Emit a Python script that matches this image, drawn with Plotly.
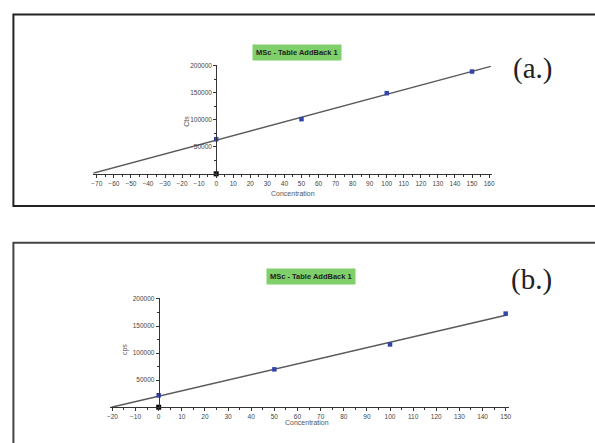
import numpy as np
import plotly.graph_objects as go

# ---- data ----
conc_a = [0, 50, 100, 150]
cts_a = [64000, 101000, 149000, 189000]
conc_b = [0, 50, 100, 150]
cps_b = [22000, 70000, 116000, 173000]
title_a = "MSc - Table AddBack 1"
title_b = "MSc - Table AddBack 1"
ytitle_a = "Cts"
ytitle_b = "cps"
xtitle = "Concentration"
ytick_vals = [50000, 100000, 150000, 200000]

W, H = 595, 443
def fx(px):
    return px / W
def fy(py):
    return 1 - py / H

fig = go.Figure()

def add_panel(xs, ys, xa, ya, xmax):
    xs = np.array(xs, float); ys = np.array(ys, float)
    slope, icpt = np.polyfit(xs, ys, 1)
    x0 = -icpt / slope
    lx = [x0, xmax]
    ly = [icpt + slope * v for v in lx]
    fig.add_trace(go.Scatter(x=lx, y=ly, mode="lines", xaxis=xa, yaxis=ya,
                             line=dict(color="#5a5a5a", width=1.5), showlegend=False,
                             hoverinfo="skip"))
    fig.add_trace(go.Scatter(x=list(xs), y=list(ys), mode="markers", xaxis=xa, yaxis=ya,
                             marker=dict(symbol="square", size=4.5, color="#3344aa"),
                             showlegend=False, cliponaxis=False))
    fig.add_trace(go.Scatter(x=[0], y=[0], mode="markers", xaxis=xa, yaxis=ya,
                             marker=dict(symbol="square", size=5, color="#000000"),
                             showlegend=False, cliponaxis=False))

add_panel(conc_a, cts_a, "x", "y", 161)
add_panel(conc_b, cps_b, "x2", "y2", 150.5)

tickfont = dict(family="Liberation Sans, Arial", size=6.5, color="#444444")
axcommon = dict(showline=True, linecolor="#333333", linewidth=1, ticks="outside",
                ticklen=3, tickcolor="#333333", showgrid=False, zeroline=False,
                tickfont=tickfont, fixedrange=True)

# panel a: 0 at px 215, 1.72 px/unit; y 0 at 172, 200000 at 63
fig.update_layout(
    xaxis=dict(domain=[fx(215 - 72 * 1.72), fx(215 + 162 * 1.72)], range=[-72, 162],
               anchor="y", tick0=0, dtick=10,
               minor=dict(dtick=5, ticks="outside", ticklen=2, tickcolor="#333333"),
               **axcommon),
    yaxis=dict(domain=[fy(172), fy(172 - 201000 / 50000 * 27.25)], range=[0, 201000],
               anchor="free", position=fx(215), tickvals=ytick_vals, tickformat="d",
               minor=dict(dtick=25000, ticks="outside", ticklen=2, tickcolor="#333333"),
               **axcommon),
    xaxis2=dict(domain=[fx(157 - 21 * 2.333), fx(157 + 151.5 * 2.333)], range=[-21, 151.5],
                anchor="y2", tick0=0, dtick=10,
                minor=dict(dtick=5, ticks="outside", ticklen=2, tickcolor="#333333"),
                **axcommon),
    yaxis2=dict(domain=[fy(407), fy(407 - 202000 / 50000 * 27.25)], range=[0, 202000],
                anchor="free", position=fx(157), tickvals=ytick_vals, tickformat="d",
                minor=dict(dtick=25000, ticks="outside", ticklen=2, tickcolor="#333333"),
                **axcommon),
)

shapes = [
    dict(type="rect", xref="paper", yref="paper", x0=fx(10.5), x1=fx(610),
         y0=fy(204.5), y1=fy(11.5), line=dict(color="#222222", width=2)),
    dict(type="rect", xref="paper", yref="paper", x0=fx(10.5), x1=fx(610),
         y0=fy(460), y1=fy(241.5), line=dict(color="#444444", width=2)),
]

ann = []
def title_box(text, cx, cy):
    ann.append(dict(text="<b>" + text + "</b>", x=fx(cx), y=fy(cy), xref="paper", yref="paper",
                    showarrow=False, bgcolor="#7fcf6a", borderpad=3,
                    font=dict(family="Liberation Sans, Arial", size=7.5, color="#222222")))
title_box(title_a, 296, 41)
title_box(title_b, 311, 275.5)

def text_at(text, cx, cy, size, angle=0, family="Liberation Sans, Arial", color="#555555"):
    ann.append(dict(text=text, x=fx(cx), y=fy(cy), xref="paper", yref="paper",
                    showarrow=False, textangle=angle,
                    font=dict(family=family, size=size, color=color)))

text_at(ytitle_a, 180, 111, 7, angle=-90)
text_at(ytitle_b, 117, 357, 7, angle=-90)
text_at(xtitle, 292, 192, 7)
text_at(xtitle, 307, 428, 7)
text_at("(a.)", 556, 47, 29, family="Liberation Serif, DejaVu Serif, serif", color="#222222")
text_at("(b.)", 556, 278, 29, family="Liberation Serif, DejaVu Serif, serif", color="#222222")

fig.update_layout(width=W, height=H, margin=dict(l=0, r=0, t=0, b=0),
                  paper_bgcolor="white", plot_bgcolor="rgba(0,0,0,0)",
                  shapes=shapes, annotations=ann, showlegend=False)

fig.write_html("out.html", config={"displayModeBar": False, "staticPlot": True},
               post_script="document.body.style.margin='0';document.body.style.overflow='hidden';")
